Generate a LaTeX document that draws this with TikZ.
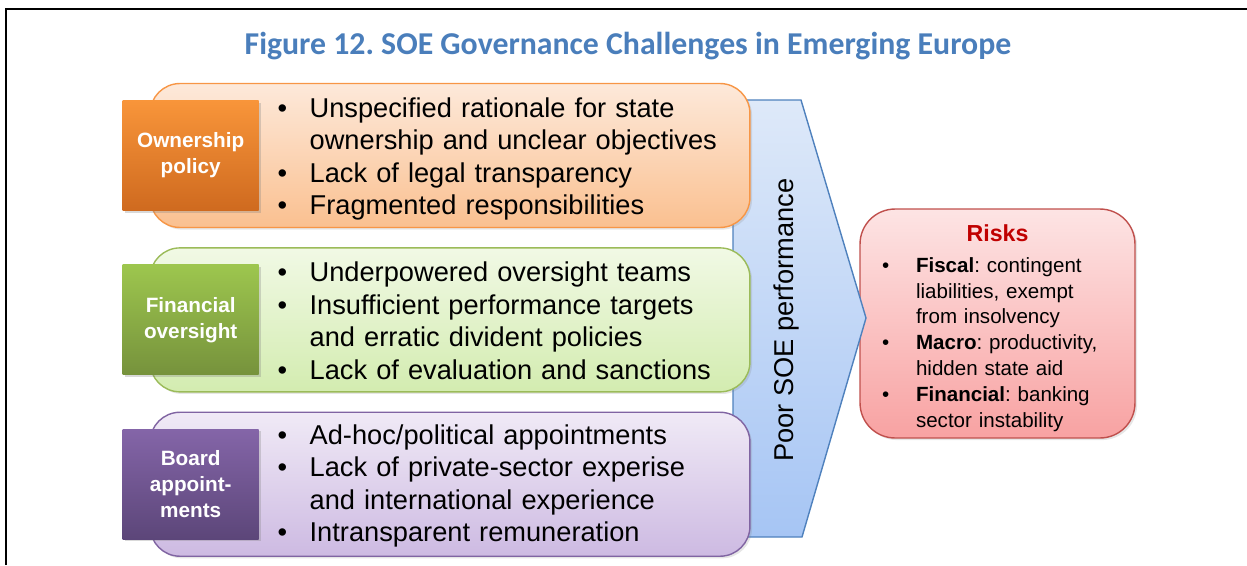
\documentclass[tikz,border=0pt]{standalone}
\usepackage{fontspec}
\setmainfont{Liberation Sans}
\newfontfamily\titlefont{Carlito}
\usetikzlibrary{positioning,shadows}
\frenchspacing

\definecolor{titleblue}{HTML}{4A7EBB}
\definecolor{orline}{HTML}{F79646}
\definecolor{ortop}{HTML}{FDE9DA}
\definecolor{orbot}{HTML}{FAC090}
\definecolor{ortagtop}{HTML}{F8953A}
\definecolor{ortagbot}{HTML}{CF6A1F}
\definecolor{grline}{HTML}{9BBB59}
\definecolor{grtop}{HTML}{F1F9E5}
\definecolor{grbot}{HTML}{D3ECB0}
\definecolor{grtagtop}{HTML}{9DC64E}
\definecolor{grtagbot}{HTML}{76923C}
\definecolor{puline}{HTML}{8064A2}
\definecolor{putop}{HTML}{F0EAF6}
\definecolor{pubot}{HTML}{CDBAE2}
\definecolor{putagtop}{HTML}{8465A8}
\definecolor{putagbot}{HTML}{5C4679}
\definecolor{blline}{HTML}{4F81BD}
\definecolor{bltop}{HTML}{DEE9F9}
\definecolor{blbot}{HTML}{A6C5F4}
\definecolor{rdline}{HTML}{C0504D}
\definecolor{rdtop}{HTML}{FDE4E4}
\definecolor{rdbot}{HTML}{F8A2A2}
\definecolor{riskred}{HTML}{C00000}

\newcommand{\bodyfont}{\fontsize{15.5}{18.5}\selectfont}
\newcommand{\tagfont}{\fontsize{11.8}{14.7}\selectfont\bfseries}
\newcommand{\riskfont}{\fontsize{11.7}{14.7}\selectfont}
\newcommand{\itm}[2][0.64cm]{\par\noindent\hangindent=#1\hangafter=1\makebox[#1][l]{\textbullet}#2\par}

\begin{document}
\begin{tikzpicture}[x=0.02cm, y=-0.02cm,
          node distance=0.38cm,
          bigbox/.style={draw,line width=0.8pt,rounded corners=0.6cm,minimum width=12cm,minimum height=2.88cm,
            drop shadow={opacity=0.2,shadow xshift=1.2pt,shadow yshift=-1.2pt}},
          tag/.style={anchor=west,minimum width=2.72cm,minimum height=2.2cm,text=white,font=\tagfont,align=center,
            drop shadow={opacity=0.3,shadow xshift=1.2pt,shadow yshift=-1.2pt}},
          items/.style={anchor=west,inner sep=0pt,text width=9.5cm,align=left,font=\bodyfont}
            ]
            \useasboundingbox (0,0) rectangle (1247,565);
            \draw[line width=1.6pt] (6,565) -- (6,9) -- (1247,9);
            \node[font=\titlefont\bfseries\fontsize{18.1}{21}\selectfont,text=titleblue] (title) at (628,46)
              {Figure 12. SOE Governance Challenges in Emerging Europe};
            % risks on the right
            \node[draw=rdline,line width=0.8pt,rounded corners=0.7cm,top color=rdtop,bottom color=rdbot,
              minimum width=5.5cm,minimum height=4.58cm,
              drop shadow={opacity=0.2,shadow xshift=1.2pt,shadow yshift=-1.2pt}] (risks) at (997.5,323.5) {};
            \node[inner sep=0pt,text width=4.62cm,align=left,font=\riskfont] (riskitems) at ([yshift=-0.09cm]risks.center)
              {{\centering\color{riskred}\bfseries\fontsize{13.2}{17}\selectfont Risks\par}\vspace{3pt}
               \itm[0.68cm]{\textbf{Fiscal}: contingent\newline liabilities, exempt\newline from insolvency}
               \itm[0.68cm]{\textbf{Macro}: productivity,\newline hidden state aid}
               \itm[0.68cm]{\textbf{Financial}: banking\newline sector instability}};
            % big arrow
            \draw[blline,line width=0.8pt,top color=bltop,bottom color=blbot]
              (733,100) -- (801,100) -- (866,318) -- (802,537) -- (733,537) -- cycle;
            \node[rotate=90,font=\bodyfont] (perf) at (786,320) {Poor SOE performance};
            % the three boxes
            \node[bigbox,draw=orline,top color=ortop,bottom color=orbot] (op) at (450,155.5) {};
            \node[bigbox,draw=grline,top color=grtop,bottom color=grbot,below=of op] (fo) {};
            \node[bigbox,draw=puline,top color=putop,bottom color=pubot,below=of fo] (ba) {};
            \node[tag,top color=ortagtop,bottom color=ortagbot] (optag) at ([xshift=-0.54cm]op.west) {Ownership\\policy};
            \node[tag,top color=grtagtop,bottom color=grtagbot] (fotag) at ([xshift=-0.54cm]fo.west) {Financial\\oversight};
            \node[tag,top color=putagtop,bottom color=putagbot] (batag) at ([xshift=-0.54cm]ba.west) {Board\\appoint-\\ments};
            \node[items] (opitems) at ([xshift=2.56cm,yshift=0.06cm]op.west)
              {\itm{Unspecified rationale for state\newline ownership and unclear objectives}
               \itm{Lack of legal transparency}
               \itm{Fragmented responsibilities}};
            \node[items] (foitems) at ([xshift=2.56cm,yshift=0.11cm]fo.west)
              {\itm{Underpowered oversight teams}
               \itm{Insufficient performance targets\newline and erratic divident policies}
               \itm{Lack of evaluation and sanctions}};
            \node[items] (baitems) at ([xshift=2.56cm,yshift=0.09cm]ba.west)
              {\itm{Ad-hoc/political appointments}
               \itm{Lack of private-sector experise\newline and international experience}
               \itm{Intransparent remuneration}};
            \end{tikzpicture}
\end{document}
